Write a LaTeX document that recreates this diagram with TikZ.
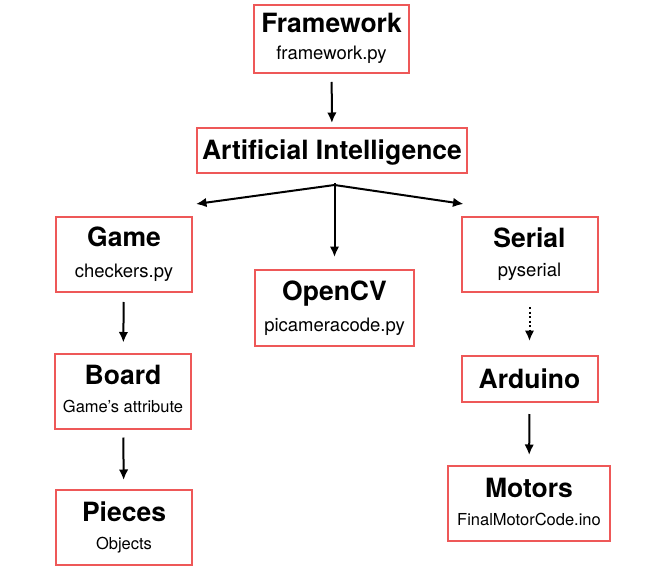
\documentclass[tikz,border=0pt]{standalone}
\usepackage{fontspec}
\setmainfont{TeX Gyre Heros}
\usetikzlibrary{arrows.meta}

\definecolor{boxred}{RGB}{238,88,88}
\newcommand{\titlefont}{\fontsize{26.5}{28}\selectfont\bfseries}
\newcommand{\filefont}{\fontsize{18.5}{28}\selectfont}
\newcommand{\smallfilefont}{\fontsize{16.5}{28}\selectfont}
\newcommand{\modtitle}[1]{\rule{0pt}{19pt}\smash{\titlefont #1}}
\newcommand{\modfile}[1]{\rule[-4pt]{0pt}{4pt}\smash{\filefont #1}}
\newcommand{\modnote}[1]{\rule[-4pt]{0pt}{4pt}\smash{\smallfilefont #1}}

\begin{document}
\begin{tikzpicture}[x=1pt,y=-1pt,
  module/.style={draw=boxred, line width=2pt, align=center, inner sep=0pt,
    minimum width=136pt, minimum height=75pt, font=\filefont},
  link/.style={-{Latex[length=10.5pt,width=9.5pt]}, line width=2pt}]
  \useasboundingbox (0,0) rectangle (650,572);

  \node[module, minimum width=155pt, minimum height=68pt] (framework) at (331.5,39)
    {\modtitle{Framework}\\[-1pt]\modfile{framework.py}};

  \node[module, minimum width=270pt, minimum height=45pt] (ai) at (332,150.5)
    {\modtitle{Artificial Intelligence}};


  \node[module] (game) at (124,254.5) {\modtitle{Game}\\[3pt]\modfile{checkers.py}};
  \node[module] (board) at (123,391) {\modtitle{Board}\\\modnote{Game's attribute}};
  \node[module] (pieces) at (124,527.5) {\modtitle{Pieces}\\\modnote{Objects}};

  \node[module, minimum width=159pt, minimum height=76pt] (opencv) at (334.5,308)
    {\modtitle{OpenCV}\\[3pt]\modfile{picameracode.py}};

  \node[module] (serial) at (529.5,254.5) {\modtitle{Serial}\\[1pt]\modfile{pyserial}};
  \node[module, minimum height=46pt] (arduino) at (529.5,379) {\modtitle{Arduino}};
  \node[module, minimum width=162pt] (motors) at (529,503.5)
    {\modtitle{Motors}\\\modnote{FinalMotorCode.ino}};


  \coordinate (split) at ([yshift=-11pt]opencv.north |- ai.south);

  \draw[link, shorten <=8pt, shorten >=4pt] (framework) -- (ai);

  \draw[link] (split) -- ([xshift=3pt,yshift=12pt]game.north east);
  \draw[link] ([yshift=2pt]split) -- ([yshift=12pt]opencv.north);
  \draw[link] (split) -- ([xshift=3pt,yshift=12pt]serial.north west);

  \draw[link, shorten <=9pt, shorten >=10pt] (game) -- (board);
  \draw[link, shorten <=8pt, shorten >=9pt] (board) -- (pieces);

  \draw[link, dash pattern=on 2pt off 2.5pt, shorten <=14pt, shorten >=14pt] (serial) -- (arduino);
  \draw[link, shorten <=11pt, shorten >=10pt] (arduino) -- (motors);

\end{tikzpicture}
\end{document}
